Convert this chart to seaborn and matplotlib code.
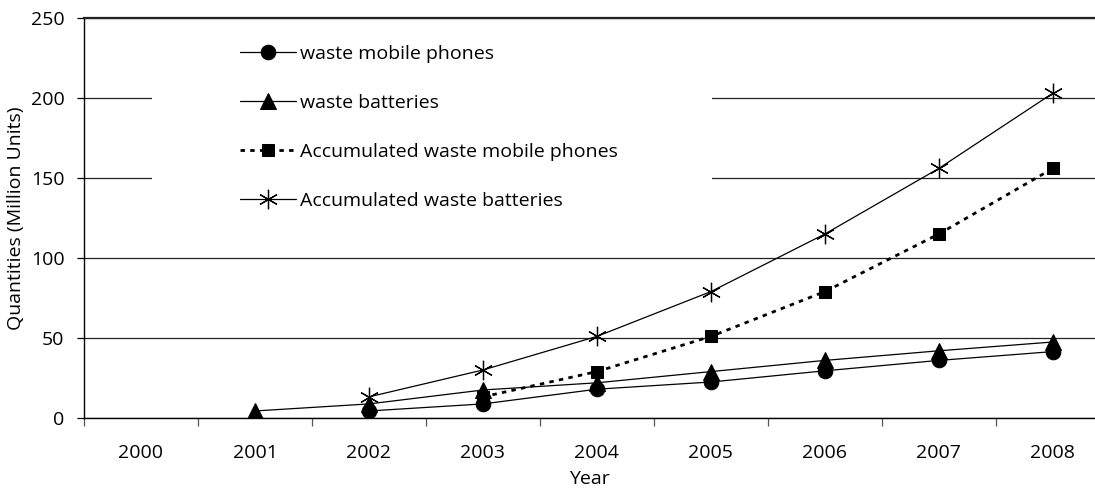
import numpy as np
import pandas as pd
import matplotlib.pyplot as plt
import matplotlib.patches as mpatches
import seaborn as sns

# Data (million units)
years = [2000, 2001, 2002, 2003, 2004, 2005, 2006, 2007, 2008]
waste_phones = [np.nan, np.nan, 4.4, 8.8, 18, 22.5, 29.5, 36, 41.5]
waste_batteries = [np.nan, 4.4, 8.8, 17.5, 22, 29, 36, 42, 47.5]
acc_phones = [np.nan, np.nan, np.nan, 13.2, 29, 51, 79, 115, 156]
acc_batteries = [np.nan, np.nan, 13.2, 30, 51, 79, 115, 156, 203]

labels = ["waste mobile phones", "waste batteries",
          "Accumulated waste mobile phones", "Accumulated waste batteries"]

sns.set_theme(style="white")
plt.rcParams['font.family'] = ['Open Sans', 'DejaVu Sans']
plt.rcParams['text.color'] = 'black'
plt.rcParams['axes.labelcolor'] = 'black'
plt.rcParams['xtick.color'] = 'black'
plt.rcParams['ytick.color'] = 'black'

FS = 14

fig = plt.figure(figsize=(10.95, 4.88), dpi=100)
ax = fig.add_axes([84 / 1095, 70 / 488, 1 - 84 / 1095, 400 / 488])

df = pd.DataFrame({"Year": years, "phones": waste_phones,
                   "batteries": waste_batteries,
                   "acc_phones": acc_phones, "acc_batteries": acc_batteries})


def draw(col, label, **kw):
    d = df.dropna(subset=[col])
    sns.lineplot(data=d, x="Year", y=col, ax=ax, label=label,
                 color="black", markeredgecolor="black", zorder=4, **kw)


draw("phones", labels[0], marker="o", markersize=10.5, linewidth=0.9)
draw("batteries", labels[1], marker="^", markersize=11, linewidth=0.9)
draw("acc_phones", labels[2], marker="s", markersize=8.5, linewidth=2.0,
     linestyle=(0, (1.6, 1.9)))
draw("acc_batteries", labels[3], marker=(6, 2, 0), markersize=14,
     markeredgewidth=0.9, linewidth=0.9)

# axes styling
ax.set_ylim(0, 250)
ax.set_xlim(1999.5, 2008.37)
ax.set_yticks([0, 50, 100, 150, 200, 250])
ax.set_xticks(years)
ax.set_xticks([y + 0.5 for y in years[:-1]] + [1999.5], minor=True)
ax.tick_params(axis="x", which="major", length=0, labelsize=FS, pad=18.5)
ax.tick_params(axis="x", which="minor", length=6, width=0.9,
               direction="out", bottom=True, color="#555555")
ax.tick_params(axis="y", length=5, width=0.9, direction="out", left=True,
               labelsize=FS, pad=9)
ax.yaxis.grid(True, color="#222222", linewidth=0.9)
ax.set_axisbelow(True)
for s in ["left", "bottom"]:
    ax.spines[s].set_color("black")
    ax.spines[s].set_linewidth(1.0)
ax.spines["top"].set_color("#222222")
ax.spines["top"].set_linewidth(1.6)
ax.spines["right"].set_visible(False)

ax.set_xlabel("Year", fontsize=FS, labelpad=6)
ax.set_ylabel("Quantities (Million Units)", fontsize=FS, labelpad=4.5)

# white background block behind the legend, as in the original
ax.add_patch(mpatches.Rectangle((0.067, 0.4825), 0.554, 0.49,
                                transform=ax.transAxes, facecolor="white",
                                edgecolor="none", zorder=1.5))
ax.legend(loc="upper left", bbox_to_anchor=(0.147, 0.9525), frameon=False,
          fontsize=FS, handlelength=2.85, handletextpad=0.2,
          labelspacing=1.6, borderaxespad=0)

fig.savefig("out.png", dpi=100)
